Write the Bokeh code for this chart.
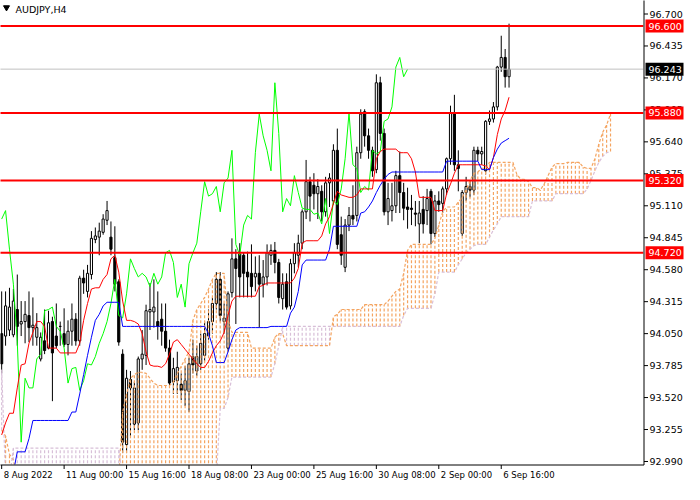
from bokeh.plotting import figure
from bokeh.models import Range1d
from bokeh.core.properties import value
from bokeh.embed import file_html
from bokeh.resources import INLINE

# ---------------- data (AUDJPY, H4) ----------------
opens = [94.05, 94.03, 94.08, 94.04, 94.25, 94.13, 94.15, 94.20, 94.10, 94.02,
         93.84, 93.99, 93.93, 94.15, 94.03, 94.11, 94.05, 93.96, 94.07, 94.17,
         93.99, 94.51, 94.40, 94.54, 94.83, 94.85, 94.89, 94.99, 94.85, 94.68,
         94.48, 93.88, 93.13, 93.67, 93.30, 93.31, 93.84, 93.87, 94.23, 94.23,
         94.15, 94.17, 94.07, 93.93, 93.65, 93.66, 93.63, 93.58, 93.57, 93.86,
         93.74, 93.80, 93.87, 94.03, 94.15, 94.30, 94.50, 94.15, 93.93, 94.39,
         94.67, 94.71, 94.70, 94.56, 94.55, 94.52, 94.55, 94.46, 94.52, 94.70,
         94.74, 94.64, 94.34, 94.48, 94.28, 94.63, 94.70, 94.80, 95.06, 95.31,
         95.28, 95.21, 95.23, 95.06, 95.30, 95.15, 95.57, 94.87, 94.60, 94.95,
         95.03, 95.03, 95.55, 95.89, 95.69, 95.57, 95.41, 96.13, 95.71, 95.06,
         95.07, 95.11, 95.36, 95.22, 95.10, 95.09, 95.05, 94.96, 95.08, 95.07,
         95.23, 94.88, 95.15, 95.13, 95.25, 95.50, 95.88, 95.45, 94.88, 95.22,
         95.27, 95.24, 95.57, 95.54, 95.40, 95.81, 95.83, 95.93, 96.26, 96.34,
         96.18]
highs = [94.40, 94.40, 94.43, 94.42, 94.54, 94.32, 94.32, 94.40, 94.35, 94.22,
         94.06, 94.25, 94.24, 94.19, 94.30, 94.15, 94.26, 94.16, 94.30, 94.22,
         94.53, 94.58, 94.62, 94.90, 94.93, 94.97, 95.04, 95.15, 94.98, 94.94,
         94.50, 93.92, 93.75, 93.74, 93.65, 93.86, 94.08, 94.29, 94.47, 94.50,
         94.40, 94.30, 94.30, 94.00, 93.85, 93.90, 93.72, 93.78, 93.85, 94.00,
         93.95, 94.05, 94.15, 94.25, 94.35, 94.56, 94.56, 94.30, 94.40, 94.84,
         94.75, 94.80, 94.72, 94.73, 94.79, 94.69, 94.70, 94.66, 94.79, 94.79,
         94.81, 94.67, 94.55, 94.55, 94.67, 94.80, 94.87, 95.08, 95.49, 95.35,
         95.38, 95.33, 95.28, 95.35, 95.38, 95.62, 95.75, 95.02, 95.00, 95.10,
         95.28, 95.60, 95.91, 95.91, 95.75, 95.60, 96.20, 96.18, 95.75, 95.30,
         95.30, 95.40, 95.56, 95.30, 95.26, 95.20, 95.15, 95.15, 95.19, 95.25,
         95.25, 95.20, 95.23, 95.27, 95.51, 95.94, 96.03, 95.57, 95.24, 95.35,
         95.32, 95.60, 95.60, 95.60, 95.82, 95.90, 95.97, 96.27, 96.52, 96.41,
         96.62]
lows = [93.72, 93.95, 94.03, 94.02, 93.95, 94.03, 93.97, 93.98, 93.95, 93.95,
        93.82, 93.88, 93.92, 93.49, 93.93, 93.95, 93.94, 93.87, 93.95, 93.95,
        93.95, 94.38, 94.35, 94.50, 94.80, 94.70, 94.87, 94.95, 94.70, 94.40,
        93.95, 93.06, 93.06, 93.20, 93.25, 93.25, 93.75, 93.79, 94.08, 94.10,
        94.00, 93.95, 93.90, 93.60, 93.55, 93.55, 93.50, 93.45, 93.40, 93.72,
        93.70, 93.75, 93.82, 94.00, 94.05, 94.25, 94.15, 94.05, 93.90, 94.35,
        94.13, 94.35, 94.35, 94.35, 94.35, 94.40, 94.10, 94.35, 94.45, 94.62,
        94.55, 94.30, 94.25, 94.25, 94.25, 94.55, 94.60, 94.75, 95.00, 94.98,
        95.08, 95.00, 94.98, 95.02, 95.10, 95.12, 94.75, 94.62, 94.56, 94.90,
        94.95, 94.98, 95.50, 95.60, 95.50, 95.35, 95.38, 95.65, 95.03, 94.95,
        94.98, 95.05, 95.05, 94.99, 94.92, 94.95, 94.94, 94.80, 94.88, 94.95,
        94.79, 94.85, 95.06, 95.05, 95.20, 95.45, 95.40, 95.23, 94.86, 95.15,
        95.18, 95.20, 95.48, 95.45, 95.37, 95.78, 95.80, 95.90, 96.22, 96.09,
        96.09]
closes = [93.80, 94.28, 94.27, 94.32, 94.11, 94.15, 94.21, 94.10, 94.12, 94.10,
          94.02, 93.91, 94.14, 93.89, 93.95, 94.11, 93.96, 94.07, 94.17, 93.99,
          94.51, 94.47, 94.55, 94.84, 94.86, 94.90, 95.00, 95.07, 94.75, 94.46,
          93.98, 93.15, 93.68, 93.60, 93.60, 93.84, 93.88, 94.24, 94.25, 94.27,
          94.11, 94.07, 93.93, 93.64, 93.76, 93.77, 93.58, 93.66, 93.80, 93.79,
          93.86, 93.97, 94.05, 94.15, 94.30, 94.50, 94.20, 94.18, 94.38, 94.67,
          94.59, 94.52, 94.55, 94.52, 94.44, 94.55, 94.46, 94.52, 94.72, 94.74,
          94.64, 94.35, 94.46, 94.27, 94.63, 94.72, 94.80, 95.06, 95.31, 95.19,
          95.21, 95.27, 95.06, 95.30, 95.34, 95.57, 94.79, 94.70, 94.95, 95.03,
          95.00, 95.55, 95.87, 95.69, 95.57, 95.40, 96.13, 95.71, 95.06, 95.17,
          95.11, 95.36, 95.22, 95.09, 95.08, 95.08, 95.04, 95.05, 94.96, 95.17,
          94.88, 95.15, 95.12, 95.25, 95.50, 95.88, 95.45, 95.42, 95.22, 95.27,
          95.24, 95.57, 95.54, 95.56, 95.81, 95.83, 95.93, 96.26, 96.34, 96.18,
          96.243]

# Ichimoku lines
tenkan = [93.21, 93.31, 93.39, 93.39, 93.60, 93.79, 93.80, 93.97, 94.06, 94.15,
          94.15, 94.11, 93.93, 93.93, 93.93, 93.89, 93.89, 93.89, 93.89, 93.89,
          93.97, 94.16, 94.30, 94.42, 94.43, 94.43, 94.50, 94.54, 94.67, 94.70,
          94.56, 94.32, 94.16, 94.16, 94.15, 94.13, 94.05, 93.90, 93.79, 93.78,
          93.78, 93.77, 93.80, 93.88, 93.98, 94.00, 93.96, 93.92, 93.88, 93.84,
          93.80, 93.77, 93.77, 93.82, 93.89, 93.95, 93.99, 94.06, 94.20, 94.32,
          94.36, 94.36, 94.36, 94.36, 94.36, 94.36, 94.44, 94.45, 94.47, 94.47,
          94.47, 94.47, 94.47, 94.47, 94.47, 94.51, 94.59, 94.80, 94.82, 94.82,
          94.82, 94.82, 94.86, 94.96, 95.02, 95.13, 95.23, 95.20, 95.19, 95.18,
          95.18, 95.20, 95.25, 95.25, 95.25, 95.25, 95.50, 95.56, 95.58, 95.58,
          95.58, 95.58, 95.55, 95.55, 95.55, 95.50, 95.39, 95.18, 95.18, 95.18,
          95.18, 95.07, 95.07, 95.07, 95.21, 95.29, 95.38, 95.45, 95.45, 95.45,
          95.45, 95.45, 95.45, 95.45, 95.44, 95.41, 95.51, 95.70, 95.83, 95.90,
          96.01]
kijun = [92.90, 92.90, 92.90, 92.90, 93.07, 93.07, 93.07, 93.18, 93.33, 93.33,
         93.33, 93.33, 93.33, 93.33, 93.33, 93.33, 93.33, 93.33, 93.40, 93.40,
         93.55, 93.71, 93.87, 94.02, 94.16, 94.21, 94.28, 94.31, 94.31, 94.31,
         94.31, 94.11, 94.11, 94.11, 94.11, 94.11, 94.11, 94.11, 94.11, 94.11,
         94.11, 94.11, 94.11, 94.11, 94.11, 94.11, 94.11, 94.11, 94.11, 94.11,
         94.11, 94.11, 94.11, 94.05, 93.95, 93.81, 93.81, 93.81, 93.90, 94.00,
         94.08, 94.10, 94.10, 94.10, 94.10, 94.10, 94.10, 94.10, 94.10, 94.11,
         94.11, 94.11, 94.11, 94.11, 94.22, 94.27, 94.40, 94.62, 94.66, 94.66,
         94.66, 94.66, 94.66, 94.66, 94.75, 94.94, 94.94, 94.94, 94.94, 94.94,
         94.94, 94.94, 95.05, 95.06, 95.10, 95.15, 95.22, 95.28, 95.33, 95.37,
         95.39, 95.39, 95.39, 95.39, 95.39, 95.39, 95.39, 95.39, 95.39, 95.39,
         95.39, 95.39, 95.39, 95.39, 95.48, 95.48, 95.48, 95.48, 95.48, 95.48,
         95.48, 95.48, 95.48, 95.41, 95.41, 95.41, 95.51, 95.58, 95.63, 95.65,
         95.67]
senkou_a = [93.25, 93.20, 93.05, 93.00, 92.85, 92.85, 92.85, 92.85, 92.85, 92.85,
            92.85, 92.85, 92.85, 92.85, 92.85, 92.85, 92.85, 92.85, 92.85, 92.85,
            92.85, 92.85, 92.85, 92.85, 92.85, 92.85, 92.85, 92.85, 92.85, 92.85,
            92.85, 93.40, 93.55, 93.68, 93.71, 93.73, 93.73, 93.72, 93.68, 93.64,
            93.62, 93.62, 93.62, 93.62, 93.65, 93.72, 93.78, 93.84, 93.90, 94.16,
            94.25, 94.30, 94.35, 94.42, 94.50, 94.55, 94.55, 94.55, 94.16, 94.06,
            94.06, 94.06, 94.06, 94.06, 93.93, 93.93, 93.93, 93.93, 93.93, 93.93,
            94.02, 94.05, 94.05, 93.95, 93.95, 93.95, 93.95, 93.95, 93.95, 93.95,
            93.95, 93.95, 93.95, 93.95, 93.95, 94.19, 94.21, 94.25, 94.25, 94.25,
            94.25, 94.25, 94.25, 94.29, 94.29, 94.29, 94.29, 94.29, 94.29, 94.32,
            94.36, 94.40, 94.42, 94.55, 94.74, 94.79, 94.79, 94.79, 94.79, 94.79,
            94.79, 94.84, 94.95, 95.06, 95.10, 95.10, 95.10, 95.14, 95.18, 95.24,
            95.32, 95.38, 95.39, 95.42, 95.42, 95.47, 95.47, 95.47, 95.47, 95.47,
            95.47, 95.47, 95.37, 95.33, 95.33, 95.31, 95.26, 95.26, 95.24, 95.29,
            95.36, 95.43, 95.46, 95.46, 95.46, 95.47, 95.47, 95.47, 95.47, 95.43,
            95.42, 95.42, 95.50, 95.62, 95.72, 95.78, 95.87]
senkou_b = [93.75, 92.85, 92.85, 93.10, 93.10, 93.10, 93.10, 93.10, 93.10, 93.10,
            93.10, 93.10, 93.10, 93.10, 93.10, 93.10, 93.10, 93.10, 93.10, 93.10,
            93.10, 93.10, 93.10, 93.10, 93.10, 93.10, 93.10, 93.10, 93.10, 93.10,
            93.10, 92.85, 92.85, 92.85, 92.85, 92.85, 92.85, 92.85, 92.85, 92.85,
            92.85, 92.85, 92.85, 92.85, 92.85, 92.85, 92.85, 92.85, 92.85, 92.85,
            92.85, 92.85, 92.85, 92.85, 92.85, 92.85, 93.43, 93.43, 93.52, 93.69,
            93.69, 93.69, 93.69, 93.69, 93.69, 93.69, 93.69, 93.69, 93.69, 93.69,
            93.80, 93.95, 94.11, 94.11, 94.11, 94.11, 94.11, 94.11, 94.11, 94.11,
            94.11, 94.11, 94.11, 94.11, 94.11, 94.11, 94.11, 94.11, 94.11, 94.11,
            94.11, 94.11, 94.11, 94.11, 94.11, 94.11, 94.11, 94.11, 94.11, 94.11,
            94.11, 94.11, 94.11, 94.20, 94.26, 94.26, 94.26, 94.26, 94.26, 94.26,
            94.26, 94.38, 94.56, 94.56, 94.56, 94.56, 94.56, 94.62, 94.67, 94.72,
            94.75, 94.78, 94.79, 94.79, 94.79, 94.85, 94.91, 94.96, 95.02, 95.02,
            95.02, 95.02, 95.02, 95.02, 95.02, 95.02, 95.15, 95.15, 95.15, 95.15,
            95.15, 95.15, 95.21, 95.21, 95.21, 95.21, 95.21, 95.21, 95.21, 95.21,
            95.25, 95.32, 95.40, 95.47, 95.52, 95.55, 95.56]
chikou_shift = 26

level_prices = [96.600, 95.880, 95.320, 94.720]
bid_price = 96.243
y_ticks = [96.700, 96.435, 96.170, 95.905, 95.640, 95.375, 95.110, 94.845,
           94.580, 94.315, 94.050, 93.785, 93.520, 93.255, 92.990]
x_tick_bars = [0, 16, 32, 48, 64, 80, 96, 112, 128]
x_tick_labels = ["8 Aug 2022", "11 Aug 00:00", "15 Aug 16:00", "18 Aug 08:00",
                 "23 Aug 00:00", "25 Aug 16:00", "30 Aug 08:00", "2 Sep 00:00",
                 "6 Sep 16:00"]
symbol_title = "AUDJPY,H4"

# ---------------- geometry ----------------
W, H = 684, 484
CHART_W, CHART_H = 643, 464          # price area inside the canvas
XL, XR = -0.3, 164.45                # bar range of the price area
YB, YT = 92.965, 96.812              # price range of the price area
KX = (XR - XL) / CHART_W             # bars per pixel
KY = (YT - YB) / CHART_H             # price per pixel
X_END = XL + W * KX
Y_START = YT - H * KY

FONT = "DejaVu Sans"
FS = "9.5px"
FS_X = "8.5px"

p = figure(width=W, height=H, title=None,
           x_range=Range1d(XL, X_END), y_range=Range1d(Y_START, YT),
           output_backend="svg", toolbar_location=None, tools="",
           x_axis_location=None, y_axis_location=None,
           min_border=0)
p.outline_line_color = None
p.background_fill_color = "white"
p.border_fill_color = "white"
p.grid.visible = False

# ---------------- candles ----------------
bars = list(range(len(closes)))
body_top = [max(o, c) for o, c in zip(opens, closes)]
body_bot = [min(o, c) for o, c in zip(opens, closes)]
body_fill = ["white" if c >= o else "black" for o, c in zip(opens, closes)]
p.segment(x0=bars, y0=lows, x1=bars, y1=highs, line_color="black", line_width=1)
p.vbar(x=bars, top=body_top, bottom=body_bot, width=0.55,
       fill_color=body_fill, line_color="black", line_width=1)

# ---------------- Ichimoku cloud ----------------
cloud_bars = list(range(len(senkou_a)))
c_top = [max(a, b) for a, b in zip(senkou_a, senkou_b)]
c_bot = [min(a, b) for a, b in zip(senkou_a, senkou_b)]
c_col = ["#F4A460" if a >= b else "#D8BFD8" for a, b in zip(senkou_a, senkou_b)]
p.segment(x0=cloud_bars, y0=c_bot, x1=cloud_bars, y1=c_top,
          line_color=c_col, line_width=1.2, line_dash="3 2")
p.line(cloud_bars, senkou_a, line_color="#F4A460", line_width=1.2, line_dash="3 2")
p.line(cloud_bars, senkou_b, line_color="#D8BFD8", line_width=1.2, line_dash="3 2")

# ---------------- Ichimoku lines ----------------
chikou_bars = list(range(len(closes) - chikou_shift))
chikou = closes[chikou_shift:]
p.line(chikou_bars, chikou, line_color="#00ff00", line_width=1)
p.line(bars, tenkan, line_color="#ff0000", line_width=1)
p.line(bars, kijun, line_color="#0000ff", line_width=1)

# ---------------- horizontal levels ----------------
p.segment(x0=[XL - 1], y0=[bid_price], x1=[XR], y1=[bid_price],
          line_color="#c0c0c0", line_width=1)
p.segment(x0=[XL - 1] * len(level_prices), y0=level_prices,
          x1=[XR] * len(level_prices), y1=level_prices,
          line_color="#ff0000", line_width=2)

# ---------------- axis strips (mask) ----------------
p.quad(left=[XR], right=[X_END + 1], bottom=[Y_START - 1], top=[YT + 1],
       fill_color="white", line_color=None)
p.quad(left=[XL - 1], right=[X_END + 1], bottom=[Y_START - 1], top=[YB],
       fill_color="white", line_color=None)

# ---------------- axes ----------------
AX = XR + 0.5 * KX
AY = YB - 0.5 * KY
p.segment(x0=[AX], y0=[AY], x1=[AX], y1=[YT + 1], line_color="black", line_width=1)
p.segment(x0=[XL - 1], y0=[AY], x1=[AX], y1=[AY], line_color="black", line_width=1)

# y ticks and labels
p.segment(x0=[AX] * len(y_ticks), y0=y_ticks, x1=[AX + 4 * KX] * len(y_ticks), y1=y_ticks,
          line_color="black", line_width=1)
p.text(x=[XR + 6 * KX] * len(y_ticks), y=y_ticks, text=[f"{t:.3f}" for t in y_ticks],
       text_font=value(FONT), text_font_size=value(FS), text_color="black",
       text_align="left", text_baseline="middle")

# x ticks and labels
p.segment(x0=x_tick_bars, y0=[AY] * len(x_tick_bars), x1=x_tick_bars,
          y1=[AY - 4 * KY] * len(x_tick_bars), line_color="black", line_width=1)
p.text(x=[b + 2 * KX for b in x_tick_bars], y=[YB - 5 * KY] * len(x_tick_bars),
       text=x_tick_labels, text_font=value(FONT), text_font_size=value(FS_X),
       text_color="black", text_align="left", text_baseline="top")

# price boxes on the scale
box_l = XR + 2 * KX
box_r = XR + 40 * KX
half_h = 6.5 * KY
p.quad(left=[box_l] * len(level_prices), right=[box_r] * len(level_prices),
       bottom=[v - half_h for v in level_prices], top=[v + half_h for v in level_prices],
       fill_color="#ff0000", line_color=None)
p.quad(left=[box_l], right=[box_r], bottom=[bid_price - half_h], top=[bid_price + half_h],
       fill_color="black", line_color=None)
p.text(x=[XR + 5 * KX] * len(level_prices), y=level_prices,
       text=[f"{v:.3f}" for v in level_prices], text_font=value(FONT),
       text_font_size=value(FS), text_color="white", text_align="left",
       text_baseline="middle")
p.text(x=[XR + 5 * KX], y=[bid_price], text=[f"{bid_price:.3f}"], text_font=value(FONT),
       text_font_size=value(FS), text_color="white", text_align="left",
       text_baseline="middle")

# ---------------- title ----------------
p.scatter(x=[XL + 6 * KX], y=[YT - 7 * KY], marker="inverted_triangle", size=6,
          fill_color="black", line_color="black")
p.text(x=[XL + 15 * KX], y=[YT - 3 * KY], text=[symbol_title], text_font=value(FONT),
       text_font_size=value(FS), text_color="black", text_align="left",
       text_baseline="top")

open("out.html", "w").write(file_html(p, INLINE))
